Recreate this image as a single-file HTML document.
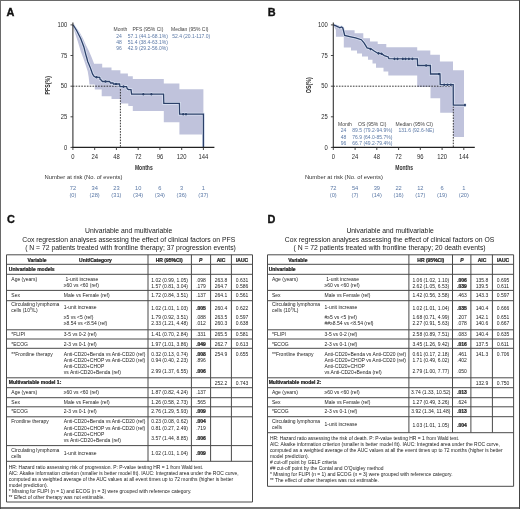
<!DOCTYPE html>
<html><head><meta charset="utf-8"><style>
html,body{margin:0;padding:0;background:#fff;}
#frame{position:absolute;left:0;top:0;width:520px;height:509px;overflow:hidden;}
svg{position:absolute;left:0;top:0;will-change:transform;}
svg text{font-family:"Liberation Sans", sans-serif;}
</style></head><body>
<div id="frame">
<svg width="520" height="509" viewBox="0 0 520 509">
<rect x="0" y="0" width="520" height="509" fill="#fff"/>
<polygon points="73.0,24.6 75.0,26.5 78.9,31.0 82.8,37.9 85.8,44.7 88.7,50.6 91.7,57.5 94.1,63.8 102.2,63.8 102.2,67.6 111.5,67.6 111.5,70.2 120.4,70.2 120.4,73.4 127.9,73.4 127.9,76.2 132.8,76.2 132.8,79.0 163.8,79.0 163.8,83.4 179.4,83.4 179.4,89.2 203.4,89.2 203.4,134.6 179.4,134.6 179.4,122.3 163.8,122.3 163.8,111.1 132.8,111.1 132.8,106.0 128.3,106.0 128.3,103.4 120.4,103.4 120.4,99.0 111.5,99.0 111.5,96.3 101.7,96.3 101.7,89.4 94.8,89.4 94.8,84.5 89.5,84.5 88.7,77.2 87.7,71.3 85.8,65.4 83.8,59.5 80.8,51.6 77.9,41.8 75.0,33.0 73.8,29.0 73.0,25.5" fill="#c0c3dc"/>
<path d="M72.9,86.2 H120.4 V147.4" fill="none" stroke="#222" stroke-width="0.9" stroke-dasharray="1.6,1.2"/>
<polyline points="73.0,24.8 74.5,27.0 76.9,31.0 78.9,35.0 80.8,38.8 82.3,42.7 83.8,46.7 84.8,50.6 85.8,54.6 86.8,58.0 87.7,61.5 89.0,64.5 90.2,67.4 91.4,70.8 92.6,74.2 94.0,76.2 95.6,77.2 99.7,77.4 100.2,79.6 101.2,80.0 102.4,81.5 109.6,81.5 110.5,83.0 113.0,83.0 113.5,84.0 119.6,84.0 119.9,86.6 126.6,86.6 127.2,88.6 128.3,89.6 131.0,89.6 131.6,94.2 163.6,94.2 163.8,103.4 179.4,103.4 179.6,114.2 203.4,114.2 203.4,147.4" fill="none" stroke="#dbe3f3" stroke-width="2.8" stroke-linejoin="miter"/>
<ellipse cx="143.3" cy="94.2" rx="1.5" ry="1.9" fill="#dbe3f3"/>
<ellipse cx="151.4" cy="94.2" rx="1.5" ry="1.9" fill="#dbe3f3"/>
<ellipse cx="183.2" cy="114.2" rx="1.5" ry="1.9" fill="#dbe3f3"/>
<ellipse cx="186.0" cy="114.2" rx="1.5" ry="1.9" fill="#dbe3f3"/>
<ellipse cx="96.5" cy="77.3" rx="1.5" ry="1.9" fill="#dbe3f3"/>
<ellipse cx="105.5" cy="81.5" rx="1.5" ry="1.9" fill="#dbe3f3"/>
<ellipse cx="116.0" cy="84.0" rx="1.5" ry="1.9" fill="#dbe3f3"/>
<ellipse cx="123.5" cy="86.6" rx="1.5" ry="1.9" fill="#dbe3f3"/>
<polyline points="73.0,24.8 74.5,27.0 76.9,31.0 78.9,35.0 80.8,38.8 82.3,42.7 83.8,46.7 84.8,50.6 85.8,54.6 86.8,58.0 87.7,61.5 89.0,64.5 90.2,67.4 91.4,70.8 92.6,74.2 94.0,76.2 95.6,77.2 99.7,77.4 100.2,79.6 101.2,80.0 102.4,81.5 109.6,81.5 110.5,83.0 113.0,83.0 113.5,84.0 119.6,84.0 119.9,86.6 126.6,86.6 127.2,88.6 128.3,89.6 131.0,89.6 131.6,94.2 163.6,94.2 163.8,103.4 179.4,103.4 179.6,114.2 203.4,114.2 203.4,147.4" fill="none" stroke="#2c4069" stroke-width="1.3" stroke-linejoin="miter"/>
<ellipse cx="143.3" cy="94.2" rx="1.0" ry="1.3" fill="#2c4069"/>
<ellipse cx="151.4" cy="94.2" rx="1.0" ry="1.3" fill="#2c4069"/>
<ellipse cx="183.2" cy="114.2" rx="1.0" ry="1.3" fill="#2c4069"/>
<ellipse cx="186.0" cy="114.2" rx="1.0" ry="1.3" fill="#2c4069"/>
<ellipse cx="96.5" cy="77.3" rx="1.0" ry="1.3" fill="#2c4069"/>
<ellipse cx="105.5" cy="81.5" rx="1.0" ry="1.3" fill="#2c4069"/>
<ellipse cx="116.0" cy="84.0" rx="1.0" ry="1.3" fill="#2c4069"/>
<ellipse cx="123.5" cy="86.6" rx="1.0" ry="1.3" fill="#2c4069"/>
<line x1="72.9" y1="22.4" x2="72.9" y2="147.9" stroke="#333" stroke-width="1.1"/>
<line x1="72.4" y1="147.4" x2="214.4" y2="147.4" stroke="#222" stroke-width="1.1"/>
<line x1="70.5" y1="147.4" x2="72.9" y2="147.4" stroke="#333" stroke-width="0.9"/>
<text transform="translate(67.30,149.74) scale(0.9,1)" font-size="6.5" text-anchor="end" fill="#2a2a2a">0</text>
<line x1="70.5" y1="116.8" x2="72.9" y2="116.8" stroke="#333" stroke-width="0.9"/>
<text transform="translate(67.30,119.12) scale(0.9,1)" font-size="6.5" text-anchor="end" fill="#2a2a2a">25</text>
<line x1="70.5" y1="86.2" x2="72.9" y2="86.2" stroke="#333" stroke-width="0.9"/>
<text transform="translate(67.30,88.49) scale(0.9,1)" font-size="6.5" text-anchor="end" fill="#2a2a2a">50</text>
<line x1="70.5" y1="55.5" x2="72.9" y2="55.5" stroke="#333" stroke-width="0.9"/>
<text transform="translate(67.30,57.87) scale(0.9,1)" font-size="6.5" text-anchor="end" fill="#2a2a2a">75</text>
<line x1="70.5" y1="24.9" x2="72.9" y2="24.9" stroke="#333" stroke-width="0.9"/>
<text transform="translate(67.30,27.24) scale(0.9,1)" font-size="6.5" text-anchor="end" fill="#2a2a2a">100</text>
<line x1="72.9" y1="147.4" x2="72.9" y2="150.0" stroke="#333" stroke-width="0.9"/>
<text transform="translate(72.90,158.64) scale(0.9,1)" font-size="6.5" text-anchor="middle" fill="#2a2a2a">0</text>
<line x1="94.7" y1="147.4" x2="94.7" y2="150.0" stroke="#333" stroke-width="0.9"/>
<text transform="translate(94.65,158.64) scale(0.9,1)" font-size="6.5" text-anchor="middle" fill="#2a2a2a">24</text>
<line x1="116.4" y1="147.4" x2="116.4" y2="150.0" stroke="#333" stroke-width="0.9"/>
<text transform="translate(116.40,158.64) scale(0.9,1)" font-size="6.5" text-anchor="middle" fill="#2a2a2a">48</text>
<line x1="138.2" y1="147.4" x2="138.2" y2="150.0" stroke="#333" stroke-width="0.9"/>
<text transform="translate(138.15,158.64) scale(0.9,1)" font-size="6.5" text-anchor="middle" fill="#2a2a2a">72</text>
<line x1="159.9" y1="147.4" x2="159.9" y2="150.0" stroke="#333" stroke-width="0.9"/>
<text transform="translate(159.90,158.64) scale(0.9,1)" font-size="6.5" text-anchor="middle" fill="#2a2a2a">96</text>
<line x1="181.7" y1="147.4" x2="181.7" y2="150.0" stroke="#333" stroke-width="0.9"/>
<text transform="translate(181.65,158.64) scale(0.9,1)" font-size="6.5" text-anchor="middle" fill="#2a2a2a">120</text>
<line x1="203.4" y1="147.4" x2="203.4" y2="150.0" stroke="#333" stroke-width="0.9"/>
<text transform="translate(203.40,158.64) scale(0.9,1)" font-size="6.5" text-anchor="middle" fill="#2a2a2a">144</text>
<text transform="translate(143.8,169.8) scale(0.62,1)" font-size="8.1" font-weight="bold" text-anchor="middle" fill="#333">Months</text>
<text transform="translate(50.3,85.2) rotate(-90) scale(0.72,1)" font-size="7.4" font-weight="bold" text-anchor="middle" fill="#2a2a2a" x="0" y="0">PFS(%)</text>
<text x="113.50" y="31.20" font-size="5.0" text-anchor="start" fill="#444" style="color:#444">Month</text>
<text x="132.50" y="31.20" font-size="5.0" text-anchor="start" fill="#444" style="color:#444">PFS (95% CI)</text>
<text x="171.00" y="31.20" font-size="5.0" text-anchor="start" fill="#444" style="color:#444">Median (95% CI)</text>
<text x="121.90" y="37.50" font-size="5.0" text-anchor="end" fill="#5a78a6" style="color:#5a78a6">24</text>
<text x="127.80" y="37.50" font-size="5.0" text-anchor="start" fill="#5a78a6" style="color:#5a78a6">57.1 (44.1-68.1%)</text>
<text x="121.90" y="43.80" font-size="5.0" text-anchor="end" fill="#5a78a6" style="color:#5a78a6">48</text>
<text x="127.80" y="43.80" font-size="5.0" text-anchor="start" fill="#5a78a6" style="color:#5a78a6">51.4 (38.4-63.1%)</text>
<text x="121.90" y="50.10" font-size="5.0" text-anchor="end" fill="#5a78a6" style="color:#5a78a6">96</text>
<text x="127.80" y="50.10" font-size="5.0" text-anchor="start" fill="#5a78a6" style="color:#5a78a6">42.9 (29.2-56.0%)</text>
<text x="172.20" y="37.50" font-size="5.0" text-anchor="start" fill="#5a78a6" style="color:#5a78a6">52.4 (20.1-117.0)</text>
<text x="44.50" y="179.31" font-size="5.85" text-anchor="start" fill="#333" style="color:#333">Number at risk (No. of events)</text>
<text x="72.90" y="189.65" font-size="5.7" text-anchor="middle" fill="#5a78a6" style="color:#5a78a6">72</text>
<text x="72.90" y="196.65" font-size="5.7" text-anchor="middle" fill="#5a78a6" style="color:#5a78a6">(0)</text>
<text x="94.65" y="189.65" font-size="5.7" text-anchor="middle" fill="#5a78a6" style="color:#5a78a6">34</text>
<text x="94.65" y="196.65" font-size="5.7" text-anchor="middle" fill="#5a78a6" style="color:#5a78a6">(28)</text>
<text x="116.40" y="189.65" font-size="5.7" text-anchor="middle" fill="#5a78a6" style="color:#5a78a6">23</text>
<text x="116.40" y="196.65" font-size="5.7" text-anchor="middle" fill="#5a78a6" style="color:#5a78a6">(31)</text>
<text x="138.15" y="189.65" font-size="5.7" text-anchor="middle" fill="#5a78a6" style="color:#5a78a6">10</text>
<text x="138.15" y="196.65" font-size="5.7" text-anchor="middle" fill="#5a78a6" style="color:#5a78a6">(34)</text>
<text x="159.90" y="189.65" font-size="5.7" text-anchor="middle" fill="#5a78a6" style="color:#5a78a6">6</text>
<text x="159.90" y="196.65" font-size="5.7" text-anchor="middle" fill="#5a78a6" style="color:#5a78a6">(34)</text>
<text x="181.65" y="189.65" font-size="5.7" text-anchor="middle" fill="#5a78a6" style="color:#5a78a6">3</text>
<text x="181.65" y="196.65" font-size="5.7" text-anchor="middle" fill="#5a78a6" style="color:#5a78a6">(36)</text>
<text x="203.40" y="189.65" font-size="5.7" text-anchor="middle" fill="#5a78a6" style="color:#5a78a6">1</text>
<text x="203.40" y="196.65" font-size="5.7" text-anchor="middle" fill="#5a78a6" style="color:#5a78a6">(37)</text>
<polygon points="333.4,24.6 338.0,25.2 341.0,26.5 343.8,28.5 343.8,30.3 354.6,30.3 354.6,33.2 363.3,33.2 363.3,38.3 370.0,38.3 370.0,41.6 377.7,41.6 377.7,44.0 386.3,44.0 386.3,47.2 417.2,47.2 417.2,50.6 430.3,50.6 430.3,54.8 439.9,54.8 439.9,61.4 453.0,61.4 453.0,70.2 464.0,70.2 464.0,137.0 453.3,137.0 453.3,112.7 440.2,112.7 440.2,98.2 430.5,98.2 430.5,87.0 417.2,87.0 417.2,75.4 388.3,75.4 388.3,71.6 383.5,71.6 383.5,67.7 376.0,67.7 376.0,63.6 372.5,63.6 372.5,59.7 368.0,59.7 368.0,56.5 362.0,56.5 362.0,53.5 357.0,53.5 357.0,50.5 351.0,50.5 351.0,47.5 343.8,47.5 343.8,36.7 335.9,36.7 335.9,30.0 333.4,25.5" fill="#c0c3dc"/>
<path d="M333.3,86.2 H453.3 V147.4" fill="none" stroke="#222" stroke-width="0.9" stroke-dasharray="1.6,1.2"/>
<polyline points="333.4,24.8 336.0,25.8 338.0,26.8 339.8,27.8 341.5,27.0 342.8,28.0 343.6,31.0 344.7,35.4 350.8,36.8 355.6,37.8 361.3,39.7 364.2,43.1 367.1,47.9 371.0,48.8 373.8,50.8 377.7,53.2 381.5,53.7 384.4,55.6 388.3,57.0 388.9,58.7 417.4,58.9 417.6,65.5 430.4,65.5 430.5,74.0 440.0,74.0 440.2,84.7 453.2,84.7 453.3,105.1 465.0,105.1" fill="none" stroke="#dbe3f3" stroke-width="2.8" stroke-linejoin="miter"/>
<ellipse cx="402.8" cy="58.9" rx="1.5" ry="1.9" fill="#dbe3f3"/>
<ellipse cx="405.5" cy="58.9" rx="1.5" ry="1.9" fill="#dbe3f3"/>
<ellipse cx="408.9" cy="58.9" rx="1.5" ry="1.9" fill="#dbe3f3"/>
<ellipse cx="412.4" cy="58.9" rx="1.5" ry="1.9" fill="#dbe3f3"/>
<ellipse cx="394.5" cy="58.9" rx="1.5" ry="1.9" fill="#dbe3f3"/>
<ellipse cx="397.5" cy="58.9" rx="1.5" ry="1.9" fill="#dbe3f3"/>
<ellipse cx="426.1" cy="65.5" rx="1.5" ry="1.9" fill="#dbe3f3"/>
<ellipse cx="439.0" cy="74.0" rx="1.5" ry="1.9" fill="#dbe3f3"/>
<ellipse cx="444.2" cy="84.7" rx="1.5" ry="1.9" fill="#dbe3f3"/>
<ellipse cx="447.5" cy="84.7" rx="1.5" ry="1.9" fill="#dbe3f3"/>
<ellipse cx="450.9" cy="84.7" rx="1.5" ry="1.9" fill="#dbe3f3"/>
<ellipse cx="465.0" cy="105.1" rx="1.5" ry="1.9" fill="#dbe3f3"/>
<ellipse cx="370.5" cy="49.1" rx="1.5" ry="1.9" fill="#dbe3f3"/>
<ellipse cx="378.5" cy="53.4" rx="1.5" ry="1.9" fill="#dbe3f3"/>
<ellipse cx="381.5" cy="53.7" rx="1.5" ry="1.9" fill="#dbe3f3"/>
<polyline points="333.4,24.8 336.0,25.8 338.0,26.8 339.8,27.8 341.5,27.0 342.8,28.0 343.6,31.0 344.7,35.4 350.8,36.8 355.6,37.8 361.3,39.7 364.2,43.1 367.1,47.9 371.0,48.8 373.8,50.8 377.7,53.2 381.5,53.7 384.4,55.6 388.3,57.0 388.9,58.7 417.4,58.9 417.6,65.5 430.4,65.5 430.5,74.0 440.0,74.0 440.2,84.7 453.2,84.7 453.3,105.1 465.0,105.1" fill="none" stroke="#2c4069" stroke-width="1.3" stroke-linejoin="miter"/>
<ellipse cx="402.8" cy="58.9" rx="1.0" ry="1.3" fill="#2c4069"/>
<ellipse cx="405.5" cy="58.9" rx="1.0" ry="1.3" fill="#2c4069"/>
<ellipse cx="408.9" cy="58.9" rx="1.0" ry="1.3" fill="#2c4069"/>
<ellipse cx="412.4" cy="58.9" rx="1.0" ry="1.3" fill="#2c4069"/>
<ellipse cx="394.5" cy="58.9" rx="1.0" ry="1.3" fill="#2c4069"/>
<ellipse cx="397.5" cy="58.9" rx="1.0" ry="1.3" fill="#2c4069"/>
<ellipse cx="426.1" cy="65.5" rx="1.0" ry="1.3" fill="#2c4069"/>
<ellipse cx="439.0" cy="74.0" rx="1.0" ry="1.3" fill="#2c4069"/>
<ellipse cx="444.2" cy="84.7" rx="1.0" ry="1.3" fill="#2c4069"/>
<ellipse cx="447.5" cy="84.7" rx="1.0" ry="1.3" fill="#2c4069"/>
<ellipse cx="450.9" cy="84.7" rx="1.0" ry="1.3" fill="#2c4069"/>
<ellipse cx="465.0" cy="105.1" rx="1.0" ry="1.3" fill="#2c4069"/>
<ellipse cx="370.5" cy="49.1" rx="1.0" ry="1.3" fill="#2c4069"/>
<ellipse cx="378.5" cy="53.4" rx="1.0" ry="1.3" fill="#2c4069"/>
<ellipse cx="381.5" cy="53.7" rx="1.0" ry="1.3" fill="#2c4069"/>
<line x1="333.3" y1="22.4" x2="333.3" y2="147.9" stroke="#333" stroke-width="1.1"/>
<line x1="332.8" y1="147.4" x2="474.8" y2="147.4" stroke="#222" stroke-width="1.1"/>
<line x1="330.9" y1="147.4" x2="333.3" y2="147.4" stroke="#333" stroke-width="0.9"/>
<text transform="translate(327.70,149.74) scale(0.9,1)" font-size="6.5" text-anchor="end" fill="#2a2a2a">0</text>
<line x1="330.9" y1="116.8" x2="333.3" y2="116.8" stroke="#333" stroke-width="0.9"/>
<text transform="translate(327.70,119.12) scale(0.9,1)" font-size="6.5" text-anchor="end" fill="#2a2a2a">25</text>
<line x1="330.9" y1="86.2" x2="333.3" y2="86.2" stroke="#333" stroke-width="0.9"/>
<text transform="translate(327.70,88.49) scale(0.9,1)" font-size="6.5" text-anchor="end" fill="#2a2a2a">50</text>
<line x1="330.9" y1="55.5" x2="333.3" y2="55.5" stroke="#333" stroke-width="0.9"/>
<text transform="translate(327.70,57.87) scale(0.9,1)" font-size="6.5" text-anchor="end" fill="#2a2a2a">75</text>
<line x1="330.9" y1="24.9" x2="333.3" y2="24.9" stroke="#333" stroke-width="0.9"/>
<text transform="translate(327.70,27.24) scale(0.9,1)" font-size="6.5" text-anchor="end" fill="#2a2a2a">100</text>
<line x1="333.3" y1="147.4" x2="333.3" y2="150.0" stroke="#333" stroke-width="0.9"/>
<text transform="translate(333.30,158.64) scale(0.9,1)" font-size="6.5" text-anchor="middle" fill="#2a2a2a">0</text>
<line x1="355.1" y1="147.4" x2="355.1" y2="150.0" stroke="#333" stroke-width="0.9"/>
<text transform="translate(355.05,158.64) scale(0.9,1)" font-size="6.5" text-anchor="middle" fill="#2a2a2a">24</text>
<line x1="376.8" y1="147.4" x2="376.8" y2="150.0" stroke="#333" stroke-width="0.9"/>
<text transform="translate(376.80,158.64) scale(0.9,1)" font-size="6.5" text-anchor="middle" fill="#2a2a2a">48</text>
<line x1="398.6" y1="147.4" x2="398.6" y2="150.0" stroke="#333" stroke-width="0.9"/>
<text transform="translate(398.55,158.64) scale(0.9,1)" font-size="6.5" text-anchor="middle" fill="#2a2a2a">72</text>
<line x1="420.3" y1="147.4" x2="420.3" y2="150.0" stroke="#333" stroke-width="0.9"/>
<text transform="translate(420.30,158.64) scale(0.9,1)" font-size="6.5" text-anchor="middle" fill="#2a2a2a">96</text>
<line x1="442.1" y1="147.4" x2="442.1" y2="150.0" stroke="#333" stroke-width="0.9"/>
<text transform="translate(442.05,158.64) scale(0.9,1)" font-size="6.5" text-anchor="middle" fill="#2a2a2a">120</text>
<line x1="463.8" y1="147.4" x2="463.8" y2="150.0" stroke="#333" stroke-width="0.9"/>
<text transform="translate(463.80,158.64) scale(0.9,1)" font-size="6.5" text-anchor="middle" fill="#2a2a2a">144</text>
<text transform="translate(404.2,169.8) scale(0.62,1)" font-size="8.1" font-weight="bold" text-anchor="middle" fill="#333">Months</text>
<text transform="translate(310.7,85.2) rotate(-90) scale(0.72,1)" font-size="7.4" font-weight="bold" text-anchor="middle" fill="#2a2a2a" x="0" y="0">OS(%)</text>
<text x="338.00" y="126.00" font-size="5.0" text-anchor="start" fill="#444" style="color:#444">Month</text>
<text x="358.00" y="126.00" font-size="5.0" text-anchor="start" fill="#444" style="color:#444">OS (95% CI)</text>
<text x="395.50" y="126.00" font-size="5.0" text-anchor="start" fill="#444" style="color:#444">Median (95% CI)</text>
<text x="346.40" y="132.30" font-size="5.0" text-anchor="end" fill="#5a78a6" style="color:#5a78a6">24</text>
<text x="352.30" y="132.30" font-size="5.0" text-anchor="start" fill="#5a78a6" style="color:#5a78a6">89.5 (79.2-94.9%)</text>
<text x="346.40" y="138.60" font-size="5.0" text-anchor="end" fill="#5a78a6" style="color:#5a78a6">48</text>
<text x="352.30" y="138.60" font-size="5.0" text-anchor="start" fill="#5a78a6" style="color:#5a78a6">76.9 (64.0-85.7%)</text>
<text x="346.40" y="144.90" font-size="5.0" text-anchor="end" fill="#5a78a6" style="color:#5a78a6">96</text>
<text x="352.30" y="144.90" font-size="5.0" text-anchor="start" fill="#5a78a6" style="color:#5a78a6">66.7 (49.2-79.4%)</text>
<text x="398.50" y="132.30" font-size="5.0" text-anchor="start" fill="#5a78a6" style="color:#5a78a6">131.6 (92.6-NE)</text>
<text x="304.90" y="179.31" font-size="5.85" text-anchor="start" fill="#333" style="color:#333">Number at risk (No. of events)</text>
<text x="333.30" y="189.65" font-size="5.7" text-anchor="middle" fill="#5a78a6" style="color:#5a78a6">72</text>
<text x="333.30" y="196.65" font-size="5.7" text-anchor="middle" fill="#5a78a6" style="color:#5a78a6">(0)</text>
<text x="355.05" y="189.65" font-size="5.7" text-anchor="middle" fill="#5a78a6" style="color:#5a78a6">54</text>
<text x="355.05" y="196.65" font-size="5.7" text-anchor="middle" fill="#5a78a6" style="color:#5a78a6">(7)</text>
<text x="376.80" y="189.65" font-size="5.7" text-anchor="middle" fill="#5a78a6" style="color:#5a78a6">39</text>
<text x="376.80" y="196.65" font-size="5.7" text-anchor="middle" fill="#5a78a6" style="color:#5a78a6">(14)</text>
<text x="398.55" y="189.65" font-size="5.7" text-anchor="middle" fill="#5a78a6" style="color:#5a78a6">22</text>
<text x="398.55" y="196.65" font-size="5.7" text-anchor="middle" fill="#5a78a6" style="color:#5a78a6">(16)</text>
<text x="420.30" y="189.65" font-size="5.7" text-anchor="middle" fill="#5a78a6" style="color:#5a78a6">12</text>
<text x="420.30" y="196.65" font-size="5.7" text-anchor="middle" fill="#5a78a6" style="color:#5a78a6">(17)</text>
<text x="442.05" y="189.65" font-size="5.7" text-anchor="middle" fill="#5a78a6" style="color:#5a78a6">6</text>
<text x="442.05" y="196.65" font-size="5.7" text-anchor="middle" fill="#5a78a6" style="color:#5a78a6">(19)</text>
<text x="463.80" y="189.65" font-size="5.7" text-anchor="middle" fill="#5a78a6" style="color:#5a78a6">1</text>
<text x="463.80" y="196.65" font-size="5.7" text-anchor="middle" fill="#5a78a6" style="color:#5a78a6">(20)</text>
<text x="6.60" y="15.80" font-size="10.9" text-anchor="start" fill="#111" style="color:#111" font-weight="bold" stroke="#111" stroke-width="0.35">A</text>
<text x="267.80" y="15.80" font-size="10.9" text-anchor="start" fill="#111" style="color:#111" font-weight="bold" stroke="#111" stroke-width="0.35">B</text>
<text x="7.00" y="223.00" font-size="10.9" text-anchor="start" fill="#111" style="color:#111" font-weight="bold" stroke="#111" stroke-width="0.35">C</text>
<text x="267.60" y="222.70" font-size="10.9" text-anchor="start" fill="#111" style="color:#111" font-weight="bold" stroke="#111" stroke-width="0.35">D</text>
<text x="128.70" y="232.85" font-size="6.8" text-anchor="middle" fill="#1a1a1a" style="color:#1a1a1a">Univariable and multivariable</text>
<text x="128.70" y="241.75" font-size="6.8" text-anchor="middle" fill="#1a1a1a" style="color:#1a1a1a">Cox regression analyses assessing the effect of clinical factors on PFS</text>
<text x="130.50" y="250.05" font-size="6.8" text-anchor="middle" fill="#1a1a1a" style="color:#1a1a1a">( N = 72 patients treated with frontline therapy; 37 progression events)</text>
<line x1="6.5" y1="254.8" x2="252.5" y2="254.8" stroke="#4a4a4a" stroke-width="1"/>
<line x1="6.5" y1="264.3" x2="252.5" y2="264.3" stroke="#4a4a4a" stroke-width="1"/>
<line x1="6.5" y1="274.3" x2="252.5" y2="274.3" stroke="#4a4a4a" stroke-width="1"/>
<line x1="6.5" y1="290.4" x2="252.5" y2="290.4" stroke="#4a4a4a" stroke-width="1"/>
<line x1="6.5" y1="300.7" x2="252.5" y2="300.7" stroke="#4a4a4a" stroke-width="1"/>
<line x1="6.5" y1="329.8" x2="252.5" y2="329.8" stroke="#4a4a4a" stroke-width="1"/>
<line x1="6.5" y1="339.0" x2="252.5" y2="339.0" stroke="#4a4a4a" stroke-width="1"/>
<line x1="6.5" y1="348.3" x2="252.5" y2="348.3" stroke="#4a4a4a" stroke-width="1"/>
<line x1="6.5" y1="377.8" x2="252.5" y2="377.8" stroke="#4a4a4a" stroke-width="1"/>
<line x1="6.5" y1="387.7" x2="252.5" y2="387.7" stroke="#4a4a4a" stroke-width="1"/>
<line x1="6.5" y1="397.7" x2="252.5" y2="397.7" stroke="#4a4a4a" stroke-width="1"/>
<line x1="6.5" y1="406.8" x2="252.5" y2="406.8" stroke="#4a4a4a" stroke-width="1"/>
<line x1="6.5" y1="416.8" x2="252.5" y2="416.8" stroke="#4a4a4a" stroke-width="1"/>
<line x1="6.5" y1="445.6" x2="252.5" y2="445.6" stroke="#4a4a4a" stroke-width="1"/>
<line x1="6.5" y1="461.3" x2="252.5" y2="461.3" stroke="#4a4a4a" stroke-width="1"/>
<line x1="6.5" y1="502.0" x2="252.5" y2="502.0" stroke="#4a4a4a" stroke-width="1"/>
<line x1="6.5" y1="254.8" x2="6.5" y2="502.0" stroke="#4a4a4a" stroke-width="1"/>
<line x1="252.5" y1="254.8" x2="252.5" y2="502.0" stroke="#4a4a4a" stroke-width="1"/>
<line x1="148.0" y1="254.8" x2="148.0" y2="461.3" stroke="#4a4a4a" stroke-width="1"/>
<line x1="191.4" y1="254.8" x2="191.4" y2="461.3" stroke="#4a4a4a" stroke-width="1"/>
<line x1="210.6" y1="254.8" x2="210.6" y2="461.3" stroke="#4a4a4a" stroke-width="1"/>
<line x1="231.4" y1="254.8" x2="231.4" y2="461.3" stroke="#4a4a4a" stroke-width="1"/>
<text x="37.00" y="261.90" font-size="5.0" text-anchor="middle" fill="#222" style="color:#222" font-weight="bold" stroke="#222" stroke-width="0.22">Variable</text>
<text x="95.50" y="261.90" font-size="5.0" text-anchor="middle" fill="#222" style="color:#222" font-weight="bold" stroke="#222" stroke-width="0.22">Unit/Category</text>
<text x="169.20" y="261.90" font-size="5.0" text-anchor="middle" fill="#222" style="color:#222" font-weight="bold" stroke="#222" stroke-width="0.22">HR (95%CI)</text>
<text x="200.60" y="261.90" font-size="5.0" text-anchor="middle" fill="#222" style="color:#222" font-weight="bold" stroke="#222" stroke-width="0.22" font-style="italic">P</text>
<text x="221.00" y="261.90" font-size="5.0" text-anchor="middle" fill="#222" style="color:#222" font-weight="bold" stroke="#222" stroke-width="0.22">AIC</text>
<text x="242.00" y="261.90" font-size="5.0" text-anchor="middle" fill="#222" style="color:#222" font-weight="bold" stroke="#222" stroke-width="0.22">IAUC</text>
<text x="8.80" y="271.20" font-size="5.0" text-anchor="start" fill="#222" style="color:#222" font-weight="bold" stroke="#222" stroke-width="0.22">Univariable models</text>
<text x="11.30" y="281.30" font-size="5.0" text-anchor="start" fill="#222" style="color:#222">Age (years)</text>
<text x="169.60" y="281.50" font-size="5.0" text-anchor="middle" fill="#222" style="color:#222">1.02 (0.99, 1.05)</text>
<text x="201.00" y="281.50" font-size="5.0" text-anchor="middle" fill="#222" style="color:#222">.098</text>
<text x="221.00" y="281.50" font-size="5.0" text-anchor="middle" fill="#222" style="color:#222">263.8</text>
<text x="242.00" y="281.50" font-size="5.0" text-anchor="middle" fill="#222" style="color:#222">0.631</text>
<text x="65.50" y="281.30" font-size="5.0" text-anchor="start" fill="#222" style="color:#222">1-unit increase</text>
<text x="63.80" y="287.30" font-size="5.0" text-anchor="start" fill="#222" style="color:#222">≥60 vs &lt;60 (ref)</text>
<text x="169.60" y="287.50" font-size="5.0" text-anchor="middle" fill="#222" style="color:#222">1.57 (0.81, 3.04)</text>
<text x="201.00" y="287.50" font-size="5.0" text-anchor="middle" fill="#222" style="color:#222">.179</text>
<text x="221.00" y="287.50" font-size="5.0" text-anchor="middle" fill="#222" style="color:#222">264.7</text>
<text x="242.00" y="287.50" font-size="5.0" text-anchor="middle" fill="#222" style="color:#222">0.586</text>
<text x="11.30" y="297.20" font-size="5.0" text-anchor="start" fill="#222" style="color:#222">Sex</text>
<text x="63.80" y="297.20" font-size="5.0" text-anchor="start" fill="#222" style="color:#222">Male vs Female (ref)</text>
<text x="169.60" y="297.40" font-size="5.0" text-anchor="middle" fill="#222" style="color:#222">1.72 (0.84, 3.51)</text>
<text x="201.00" y="297.40" font-size="5.0" text-anchor="middle" fill="#222" style="color:#222">.137</text>
<text x="221.00" y="297.40" font-size="5.0" text-anchor="middle" fill="#222" style="color:#222">264.1</text>
<text x="242.00" y="297.40" font-size="5.0" text-anchor="middle" fill="#222" style="color:#222">0.561</text>
<text x="11.30" y="305.60" font-size="5.0" text-anchor="start" fill="#222" style="color:#222">Circulating lymphoma</text>
<text x="11.30" y="311.80" font-size="5.0" text-anchor="start" fill="#222" style="color:#222">cells (10<tspan dy="-1.6" font-size="3.4">9</tspan><tspan dy="1.6">/L)</tspan></text>
<text x="63.80" y="309.30" font-size="5.0" text-anchor="start" fill="#222" style="color:#222">1-unit increase</text>
<text x="169.60" y="309.50" font-size="5.0" text-anchor="middle" fill="#222" style="color:#222">1.02 (1.01, 1.03)</text>
<text x="201.00" y="309.50" font-size="5.0" text-anchor="middle" fill="#222" style="color:#222" font-weight="bold" stroke="#222" stroke-width="0.22">.005</text>
<text x="221.00" y="309.50" font-size="5.0" text-anchor="middle" fill="#222" style="color:#222">260.4</text>
<text x="242.00" y="309.50" font-size="5.0" text-anchor="middle" fill="#222" style="color:#222">0.622</text>
<text x="63.80" y="319.20" font-size="5.0" text-anchor="start" fill="#222" style="color:#222">≥5 vs &lt;5 (ref)</text>
<text x="169.60" y="319.40" font-size="5.0" text-anchor="middle" fill="#222" style="color:#222">1.79 (0.92, 3.51)</text>
<text x="201.00" y="319.40" font-size="5.0" text-anchor="middle" fill="#222" style="color:#222">.088</text>
<text x="221.00" y="319.40" font-size="5.0" text-anchor="middle" fill="#222" style="color:#222">263.5</text>
<text x="242.00" y="319.40" font-size="5.0" text-anchor="middle" fill="#222" style="color:#222">0.597</text>
<text x="63.80" y="325.20" font-size="5.0" text-anchor="start" fill="#222" style="color:#222">≥8.54 vs &lt;8.54 (ref)</text>
<text x="169.60" y="325.40" font-size="5.0" text-anchor="middle" fill="#222" style="color:#222">2.33 (1.21, 4.48)</text>
<text x="201.00" y="325.40" font-size="5.0" text-anchor="middle" fill="#222" style="color:#222">.012</text>
<text x="221.00" y="325.40" font-size="5.0" text-anchor="middle" fill="#222" style="color:#222">260.3</text>
<text x="242.00" y="325.40" font-size="5.0" text-anchor="middle" fill="#222" style="color:#222">0.638</text>
<text x="11.30" y="336.10" font-size="5.0" text-anchor="start" fill="#222" style="color:#222">*FLIPI</text>
<text x="63.80" y="336.10" font-size="5.0" text-anchor="start" fill="#222" style="color:#222">3-5 vs 0-2 (ref)</text>
<text x="169.60" y="336.30" font-size="5.0" text-anchor="middle" fill="#222" style="color:#222">1.41 (0.70, 2.84)</text>
<text x="201.00" y="336.30" font-size="5.0" text-anchor="middle" fill="#222" style="color:#222">.331</text>
<text x="221.00" y="336.30" font-size="5.0" text-anchor="middle" fill="#222" style="color:#222">265.5</text>
<text x="242.00" y="336.30" font-size="5.0" text-anchor="middle" fill="#222" style="color:#222">0.581</text>
<text x="11.30" y="345.60" font-size="5.0" text-anchor="start" fill="#222" style="color:#222">*ECOG</text>
<text x="63.80" y="345.60" font-size="5.0" text-anchor="start" fill="#222" style="color:#222">2-3 vs 0-1 (ref)</text>
<text x="169.60" y="345.80" font-size="5.0" text-anchor="middle" fill="#222" style="color:#222">1.97 (1.01, 3.86)</text>
<text x="201.00" y="345.80" font-size="5.0" text-anchor="middle" fill="#222" style="color:#222" font-weight="bold" stroke="#222" stroke-width="0.22">.049</text>
<text x="221.00" y="345.80" font-size="5.0" text-anchor="middle" fill="#222" style="color:#222">262.7</text>
<text x="242.00" y="345.80" font-size="5.0" text-anchor="middle" fill="#222" style="color:#222">0.613</text>
<text x="11.30" y="355.60" font-size="5.0" text-anchor="start" fill="#222" style="color:#222">**Frontline therapy</text>
<text x="63.80" y="355.60" font-size="5.0" text-anchor="start" fill="#222" style="color:#222">Anti-CD20+Benda vs Anti-CD20 (ref)</text>
<text x="169.60" y="355.80" font-size="5.0" text-anchor="middle" fill="#222" style="color:#222">0.32 (0.13, 0.74)</text>
<text x="201.00" y="355.80" font-size="5.0" text-anchor="middle" fill="#222" style="color:#222" font-weight="bold" stroke="#222" stroke-width="0.22">.008</text>
<text x="221.00" y="355.80" font-size="5.0" text-anchor="middle" fill="#222" style="color:#222">254.9</text>
<text x="242.00" y="355.80" font-size="5.0" text-anchor="middle" fill="#222" style="color:#222">0.655</text>
<text x="63.80" y="361.50" font-size="5.0" text-anchor="start" fill="#222" style="color:#222">Anti-CD20+CHOP vs Anti-CD20 (ref)</text>
<text x="169.60" y="361.70" font-size="5.0" text-anchor="middle" fill="#222" style="color:#222">0.94 (0.40, 2.23)</text>
<text x="201.00" y="361.70" font-size="5.0" text-anchor="middle" fill="#222" style="color:#222">.896</text>
<text x="63.80" y="367.70" font-size="5.0" text-anchor="start" fill="#222" style="color:#222">Anti-CD20+CHOP</text>
<text x="169.60" y="372.80" font-size="5.0" text-anchor="middle" fill="#222" style="color:#222">2.99 (1.37, 6.55)</text>
<text x="201.00" y="372.80" font-size="5.0" text-anchor="middle" fill="#222" style="color:#222" font-weight="bold" stroke="#222" stroke-width="0.22">.006</text>
<text x="63.80" y="373.90" font-size="5.0" text-anchor="start" fill="#222" style="color:#222">vs Anti-CD20+Benda (ref)</text>
<text x="8.80" y="384.40" font-size="5.0" text-anchor="start" fill="#222" style="color:#222" font-weight="bold" stroke="#222" stroke-width="0.22">Multivariable model 1:</text>
<text x="221.00" y="384.60" font-size="5.0" text-anchor="middle" fill="#222" style="color:#222">252.2</text>
<text x="242.00" y="384.60" font-size="5.0" text-anchor="middle" fill="#222" style="color:#222">0.743</text>
<text x="11.30" y="394.20" font-size="5.0" text-anchor="start" fill="#222" style="color:#222">Age (years)</text>
<text x="63.80" y="394.20" font-size="5.0" text-anchor="start" fill="#222" style="color:#222">≥60 vs &lt;60 (ref)</text>
<text x="169.60" y="394.40" font-size="5.0" text-anchor="middle" fill="#222" style="color:#222">1.87 (0.82, 4.24)</text>
<text x="201.00" y="394.40" font-size="5.0" text-anchor="middle" fill="#222" style="color:#222">.137</text>
<text x="11.30" y="403.70" font-size="5.0" text-anchor="start" fill="#222" style="color:#222">Sex</text>
<text x="63.80" y="403.70" font-size="5.0" text-anchor="start" fill="#222" style="color:#222">Male vs Female (ref)</text>
<text x="169.60" y="403.90" font-size="5.0" text-anchor="middle" fill="#222" style="color:#222">1.26 (0.58, 2.73)</text>
<text x="201.00" y="403.90" font-size="5.0" text-anchor="middle" fill="#222" style="color:#222">.565</text>
<text x="11.30" y="413.20" font-size="5.0" text-anchor="start" fill="#222" style="color:#222">*ECOG</text>
<text x="63.80" y="413.20" font-size="5.0" text-anchor="start" fill="#222" style="color:#222">2-3 vs 0-1 (ref)</text>
<text x="169.60" y="413.40" font-size="5.0" text-anchor="middle" fill="#222" style="color:#222">2.76 (1.29, 5.93)</text>
<text x="201.00" y="413.40" font-size="5.0" text-anchor="middle" fill="#222" style="color:#222" font-weight="bold" stroke="#222" stroke-width="0.22">.009</text>
<text x="11.30" y="423.20" font-size="5.0" text-anchor="start" fill="#222" style="color:#222">Frontline therapy</text>
<text x="63.80" y="423.20" font-size="5.0" text-anchor="start" fill="#222" style="color:#222">Anti-CD20+Benda vs Anti-CD20 (ref)</text>
<text x="169.60" y="423.40" font-size="5.0" text-anchor="middle" fill="#222" style="color:#222">0.23 (0.08, 0.62)</text>
<text x="201.00" y="423.40" font-size="5.0" text-anchor="middle" fill="#222" style="color:#222" font-weight="bold" stroke="#222" stroke-width="0.22">.004</text>
<text x="63.80" y="429.50" font-size="5.0" text-anchor="start" fill="#222" style="color:#222">Anti-CD20+CHOP vs Anti-CD20 (ref)</text>
<text x="169.60" y="429.70" font-size="5.0" text-anchor="middle" fill="#222" style="color:#222">0.81 (0.27, 2.49)</text>
<text x="201.00" y="429.70" font-size="5.0" text-anchor="middle" fill="#222" style="color:#222">.719</text>
<text x="63.80" y="436.00" font-size="5.0" text-anchor="start" fill="#222" style="color:#222">Anti-CD20+CHOP</text>
<text x="169.60" y="439.80" font-size="5.0" text-anchor="middle" fill="#222" style="color:#222">3.57 (1.44, 8.85)</text>
<text x="201.00" y="439.80" font-size="5.0" text-anchor="middle" fill="#222" style="color:#222" font-weight="bold" stroke="#222" stroke-width="0.22">.006</text>
<text x="63.80" y="442.20" font-size="5.0" text-anchor="start" fill="#222" style="color:#222">vs Anti-CD20+Benda (ref)</text>
<text x="11.30" y="452.10" font-size="5.0" text-anchor="start" fill="#222" style="color:#222">Circulating lymphoma</text>
<text x="63.80" y="455.20" font-size="5.0" text-anchor="start" fill="#222" style="color:#222">1-unit increase</text>
<text x="169.60" y="455.40" font-size="5.0" text-anchor="middle" fill="#222" style="color:#222">1.02 (1.01, 1.04)</text>
<text x="201.00" y="455.40" font-size="5.0" text-anchor="middle" fill="#222" style="color:#222" font-weight="bold" stroke="#222" stroke-width="0.22">.009</text>
<text x="11.30" y="458.30" font-size="5.0" text-anchor="start" fill="#222" style="color:#222">cells</text>
<text x="8.70" y="468.58" font-size="4.95" text-anchor="start" fill="#222" style="color:#222">HR: Hazard ratio assessing risk of progression. P: P-value testing HR = 1 from Wald test.</text>
<text x="8.70" y="474.62" font-size="4.95" text-anchor="start" fill="#222" style="color:#222">AIC: Akaike information criterion (smaller is better model fit). IAUC: Integrated area under the ROC curve,</text>
<text x="8.70" y="480.66" font-size="4.95" text-anchor="start" fill="#222" style="color:#222">computed as a weighted average of the AUC values at all event times up to 72 months (higher is better</text>
<text x="8.70" y="486.70" font-size="4.95" text-anchor="start" fill="#222" style="color:#222">model prediction).</text>
<text x="8.70" y="492.74" font-size="4.95" text-anchor="start" fill="#222" style="color:#222">* Missing for FLIPI (n = 1) and ECOG (n = 3) were grouped with reference category.</text>
<text x="8.70" y="498.78" font-size="4.95" text-anchor="start" fill="#222" style="color:#222">** Effect of other therapy was not estimable.</text>
<text x="390.05" y="232.85" font-size="6.8" text-anchor="middle" fill="#1a1a1a" style="color:#1a1a1a">Univariable and multivariable</text>
<text x="389.55" y="241.75" font-size="6.8" text-anchor="middle" fill="#1a1a1a" style="color:#1a1a1a">Cox regression analyses assessing the effect of clinical factors on OS</text>
<text x="389.55" y="250.05" font-size="6.8" text-anchor="middle" fill="#1a1a1a" style="color:#1a1a1a">( N = 72 patients treated with frontline therapy; 20 death events)</text>
<line x1="267.5" y1="254.8" x2="513.6" y2="254.8" stroke="#4a4a4a" stroke-width="1"/>
<line x1="267.5" y1="264.3" x2="513.6" y2="264.3" stroke="#4a4a4a" stroke-width="1"/>
<line x1="267.5" y1="274.3" x2="513.6" y2="274.3" stroke="#4a4a4a" stroke-width="1"/>
<line x1="267.5" y1="290.4" x2="513.6" y2="290.4" stroke="#4a4a4a" stroke-width="1"/>
<line x1="267.5" y1="300.7" x2="513.6" y2="300.7" stroke="#4a4a4a" stroke-width="1"/>
<line x1="267.5" y1="329.8" x2="513.6" y2="329.8" stroke="#4a4a4a" stroke-width="1"/>
<line x1="267.5" y1="339.0" x2="513.6" y2="339.0" stroke="#4a4a4a" stroke-width="1"/>
<line x1="267.5" y1="348.3" x2="513.6" y2="348.3" stroke="#4a4a4a" stroke-width="1"/>
<line x1="267.5" y1="377.8" x2="513.6" y2="377.8" stroke="#4a4a4a" stroke-width="1"/>
<line x1="267.5" y1="387.7" x2="513.6" y2="387.7" stroke="#4a4a4a" stroke-width="1"/>
<line x1="267.5" y1="397.7" x2="513.6" y2="397.7" stroke="#4a4a4a" stroke-width="1"/>
<line x1="267.5" y1="406.8" x2="513.6" y2="406.8" stroke="#4a4a4a" stroke-width="1"/>
<line x1="267.5" y1="416.7" x2="513.6" y2="416.7" stroke="#4a4a4a" stroke-width="1"/>
<line x1="267.5" y1="432.7" x2="513.6" y2="432.7" stroke="#4a4a4a" stroke-width="1"/>
<line x1="267.5" y1="486.3" x2="513.6" y2="486.3" stroke="#4a4a4a" stroke-width="1"/>
<line x1="267.5" y1="254.8" x2="267.5" y2="486.3" stroke="#4a4a4a" stroke-width="1"/>
<line x1="513.6" y1="254.8" x2="513.6" y2="486.3" stroke="#4a4a4a" stroke-width="1"/>
<line x1="408.9" y1="254.8" x2="408.9" y2="432.7" stroke="#4a4a4a" stroke-width="1"/>
<line x1="452.5" y1="254.8" x2="452.5" y2="432.7" stroke="#4a4a4a" stroke-width="1"/>
<line x1="470.9" y1="254.8" x2="470.9" y2="432.7" stroke="#4a4a4a" stroke-width="1"/>
<line x1="492.4" y1="254.8" x2="492.4" y2="432.7" stroke="#4a4a4a" stroke-width="1"/>
<text x="297.90" y="261.90" font-size="5.0" text-anchor="middle" fill="#222" style="color:#222" font-weight="bold" stroke="#222" stroke-width="0.22">Variable</text>
<text x="430.80" y="261.90" font-size="5.0" text-anchor="middle" fill="#222" style="color:#222" font-weight="bold" stroke="#222" stroke-width="0.22">HR (95%CI)</text>
<text x="462.00" y="261.90" font-size="5.0" text-anchor="middle" fill="#222" style="color:#222" font-weight="bold" stroke="#222" stroke-width="0.22" font-style="italic">P</text>
<text x="482.00" y="261.90" font-size="5.0" text-anchor="middle" fill="#222" style="color:#222" font-weight="bold" stroke="#222" stroke-width="0.22">AIC</text>
<text x="503.00" y="261.90" font-size="5.0" text-anchor="middle" fill="#222" style="color:#222" font-weight="bold" stroke="#222" stroke-width="0.22">IAUC</text>
<text x="268.70" y="271.20" font-size="5.0" text-anchor="start" fill="#222" style="color:#222" font-weight="bold" stroke="#222" stroke-width="0.22">Univariable</text>
<text x="272.00" y="281.30" font-size="5.0" text-anchor="start" fill="#222" style="color:#222">Age (years)</text>
<text x="430.80" y="281.50" font-size="5.0" text-anchor="middle" fill="#222" style="color:#222">1.06 (1.02, 1.10)</text>
<text x="462.00" y="281.50" font-size="5.0" text-anchor="middle" fill="#222" style="color:#222" font-weight="bold" stroke="#222" stroke-width="0.22">.006</text>
<text x="482.00" y="281.50" font-size="5.0" text-anchor="middle" fill="#222" style="color:#222">135.8</text>
<text x="503.00" y="281.50" font-size="5.0" text-anchor="middle" fill="#222" style="color:#222">0.695</text>
<text x="326.20" y="281.30" font-size="5.0" text-anchor="start" fill="#222" style="color:#222">1-unit increase</text>
<text x="324.50" y="287.30" font-size="5.0" text-anchor="start" fill="#222" style="color:#222">≥60 vs &lt;60 (ref)</text>
<text x="430.80" y="287.50" font-size="5.0" text-anchor="middle" fill="#222" style="color:#222">2.62 (1.05, 6.53)</text>
<text x="462.00" y="287.50" font-size="5.0" text-anchor="middle" fill="#222" style="color:#222" font-weight="bold" stroke="#222" stroke-width="0.22">.039</text>
<text x="482.00" y="287.50" font-size="5.0" text-anchor="middle" fill="#222" style="color:#222">139.5</text>
<text x="503.00" y="287.50" font-size="5.0" text-anchor="middle" fill="#222" style="color:#222">0.611</text>
<text x="272.00" y="297.20" font-size="5.0" text-anchor="start" fill="#222" style="color:#222">Sex</text>
<text x="324.50" y="297.20" font-size="5.0" text-anchor="start" fill="#222" style="color:#222">Male vs Female (ref)</text>
<text x="430.80" y="297.40" font-size="5.0" text-anchor="middle" fill="#222" style="color:#222">1.42 (0.56, 3.58)</text>
<text x="462.00" y="297.40" font-size="5.0" text-anchor="middle" fill="#222" style="color:#222">.463</text>
<text x="482.00" y="297.40" font-size="5.0" text-anchor="middle" fill="#222" style="color:#222">143.3</text>
<text x="503.00" y="297.40" font-size="5.0" text-anchor="middle" fill="#222" style="color:#222">0.597</text>
<text x="272.00" y="305.60" font-size="5.0" text-anchor="start" fill="#222" style="color:#222">Circulating lymphoma</text>
<text x="272.00" y="311.80" font-size="5.0" text-anchor="start" fill="#222" style="color:#222">cells (10<tspan dy="-1.6" font-size="3.4">9</tspan><tspan dy="1.6">/L)</tspan></text>
<text x="324.50" y="309.30" font-size="5.0" text-anchor="start" fill="#222" style="color:#222">1-unit increase</text>
<text x="430.80" y="309.50" font-size="5.0" text-anchor="middle" fill="#222" style="color:#222">1.02 (1.01, 1.04)</text>
<text x="462.00" y="309.50" font-size="5.0" text-anchor="middle" fill="#222" style="color:#222" font-weight="bold" stroke="#222" stroke-width="0.22">.035</text>
<text x="482.00" y="309.50" font-size="5.0" text-anchor="middle" fill="#222" style="color:#222">140.4</text>
<text x="503.00" y="309.50" font-size="5.0" text-anchor="middle" fill="#222" style="color:#222">0.666</text>
<text x="324.50" y="319.20" font-size="5.0" text-anchor="start" fill="#222" style="color:#222">#≥5 vs &lt;5 (ref)</text>
<text x="430.80" y="319.40" font-size="5.0" text-anchor="middle" fill="#222" style="color:#222">1.68 (0.71, 4.99)</text>
<text x="462.00" y="319.40" font-size="5.0" text-anchor="middle" fill="#222" style="color:#222">.207</text>
<text x="482.00" y="319.40" font-size="5.0" text-anchor="middle" fill="#222" style="color:#222">142.1</text>
<text x="503.00" y="319.40" font-size="5.0" text-anchor="middle" fill="#222" style="color:#222">0.651</text>
<text x="324.50" y="325.20" font-size="5.0" text-anchor="start" fill="#222" style="color:#222">##≥8.54 vs &lt;8.54 (ref)</text>
<text x="430.80" y="325.40" font-size="5.0" text-anchor="middle" fill="#222" style="color:#222">2.27 (0.91, 5.63)</text>
<text x="462.00" y="325.40" font-size="5.0" text-anchor="middle" fill="#222" style="color:#222">.078</text>
<text x="482.00" y="325.40" font-size="5.0" text-anchor="middle" fill="#222" style="color:#222">140.6</text>
<text x="503.00" y="325.40" font-size="5.0" text-anchor="middle" fill="#222" style="color:#222">0.667</text>
<text x="272.00" y="336.10" font-size="5.0" text-anchor="start" fill="#222" style="color:#222">*FLIPI</text>
<text x="324.50" y="336.10" font-size="5.0" text-anchor="start" fill="#222" style="color:#222">3-5 vs 0-2 (ref)</text>
<text x="430.80" y="336.30" font-size="5.0" text-anchor="middle" fill="#222" style="color:#222">2.58 (0.89, 7.51)</text>
<text x="462.00" y="336.30" font-size="5.0" text-anchor="middle" fill="#222" style="color:#222">.083</text>
<text x="482.00" y="336.30" font-size="5.0" text-anchor="middle" fill="#222" style="color:#222">140.4</text>
<text x="503.00" y="336.30" font-size="5.0" text-anchor="middle" fill="#222" style="color:#222">0.635</text>
<text x="272.00" y="345.60" font-size="5.0" text-anchor="start" fill="#222" style="color:#222">*ECOG</text>
<text x="324.50" y="345.60" font-size="5.0" text-anchor="start" fill="#222" style="color:#222">2-3 vs 0-1 (ref)</text>
<text x="430.80" y="345.80" font-size="5.0" text-anchor="middle" fill="#222" style="color:#222">3.45 (1.26, 9.42)</text>
<text x="462.00" y="345.80" font-size="5.0" text-anchor="middle" fill="#222" style="color:#222" font-weight="bold" stroke="#222" stroke-width="0.22">.016</text>
<text x="482.00" y="345.80" font-size="5.0" text-anchor="middle" fill="#222" style="color:#222">137.5</text>
<text x="503.00" y="345.80" font-size="5.0" text-anchor="middle" fill="#222" style="color:#222">0.611</text>
<text x="272.00" y="355.60" font-size="5.0" text-anchor="start" fill="#222" style="color:#222">**Frontline therapy</text>
<text x="324.50" y="355.60" font-size="5.0" text-anchor="start" fill="#222" style="color:#222">Anti-CD20+Benda vs Anti-CD20 (ref)</text>
<text x="430.80" y="355.80" font-size="5.0" text-anchor="middle" fill="#222" style="color:#222">0.61 (0.17, 2.18)</text>
<text x="462.00" y="355.80" font-size="5.0" text-anchor="middle" fill="#222" style="color:#222">.461</text>
<text x="482.00" y="355.80" font-size="5.0" text-anchor="middle" fill="#222" style="color:#222">141.3</text>
<text x="503.00" y="355.80" font-size="5.0" text-anchor="middle" fill="#222" style="color:#222">0.706</text>
<text x="324.50" y="361.50" font-size="5.0" text-anchor="start" fill="#222" style="color:#222">Anti-CD20+CHOP vs Anti-CD20 (ref)</text>
<text x="430.80" y="361.70" font-size="5.0" text-anchor="middle" fill="#222" style="color:#222">1.71 (0.49, 6.02)</text>
<text x="462.00" y="361.70" font-size="5.0" text-anchor="middle" fill="#222" style="color:#222">.402</text>
<text x="324.50" y="367.70" font-size="5.0" text-anchor="start" fill="#222" style="color:#222">Anti-CD20+CHOP</text>
<text x="430.80" y="372.80" font-size="5.0" text-anchor="middle" fill="#222" style="color:#222">2.79 (1.00, 7.77)</text>
<text x="462.00" y="372.80" font-size="5.0" text-anchor="middle" fill="#222" style="color:#222">.050</text>
<text x="324.50" y="373.90" font-size="5.0" text-anchor="start" fill="#222" style="color:#222">vs Anti-CD20+Benda (ref)</text>
<text x="268.70" y="384.40" font-size="5.0" text-anchor="start" fill="#222" style="color:#222" font-weight="bold" stroke="#222" stroke-width="0.22">Multivariable model 2:</text>
<text x="482.00" y="384.60" font-size="5.0" text-anchor="middle" fill="#222" style="color:#222">132.9</text>
<text x="503.00" y="384.60" font-size="5.0" text-anchor="middle" fill="#222" style="color:#222">0.750</text>
<text x="272.00" y="394.20" font-size="5.0" text-anchor="start" fill="#222" style="color:#222">Age (years)</text>
<text x="324.50" y="394.20" font-size="5.0" text-anchor="start" fill="#222" style="color:#222">≥60 vs &lt;60 (ref)</text>
<text x="430.80" y="394.40" font-size="5.0" text-anchor="middle" fill="#222" style="color:#222">3.74 (1.33, 10.52)</text>
<text x="462.00" y="394.40" font-size="5.0" text-anchor="middle" fill="#222" style="color:#222" font-weight="bold" stroke="#222" stroke-width="0.22">.013</text>
<text x="272.00" y="403.70" font-size="5.0" text-anchor="start" fill="#222" style="color:#222">Sex</text>
<text x="324.50" y="403.70" font-size="5.0" text-anchor="start" fill="#222" style="color:#222">Male vs Female (ref)</text>
<text x="430.80" y="403.90" font-size="5.0" text-anchor="middle" fill="#222" style="color:#222">1.27 (0.49, 3.26)</text>
<text x="462.00" y="403.90" font-size="5.0" text-anchor="middle" fill="#222" style="color:#222">.624</text>
<text x="272.00" y="413.20" font-size="5.0" text-anchor="start" fill="#222" style="color:#222">*ECOG</text>
<text x="324.50" y="413.20" font-size="5.0" text-anchor="start" fill="#222" style="color:#222">2-3 vs 0-1 (ref)</text>
<text x="430.80" y="413.40" font-size="5.0" text-anchor="middle" fill="#222" style="color:#222">3.92 (1.34, 11.48)</text>
<text x="462.00" y="413.40" font-size="5.0" text-anchor="middle" fill="#222" style="color:#222" font-weight="bold" stroke="#222" stroke-width="0.22">.013</text>
<text x="272.00" y="423.10" font-size="5.0" text-anchor="start" fill="#222" style="color:#222">Circulating lymphoma</text>
<text x="324.50" y="426.40" font-size="5.0" text-anchor="start" fill="#222" style="color:#222">1-unit increase</text>
<text x="430.80" y="426.60" font-size="5.0" text-anchor="middle" fill="#222" style="color:#222">1.03 (1.01, 1.05)</text>
<text x="462.00" y="426.60" font-size="5.0" text-anchor="middle" fill="#222" style="color:#222" font-weight="bold" stroke="#222" stroke-width="0.22">.004</text>
<text x="272.00" y="429.40" font-size="5.0" text-anchor="start" fill="#222" style="color:#222">cells</text>
<text x="269.90" y="439.78" font-size="4.95" text-anchor="start" fill="#222" style="color:#222">HR: Hazard ratio assessing the risk of death. P: P-value testing HR = 1 from Wald test.</text>
<text x="269.90" y="445.84" font-size="4.95" text-anchor="start" fill="#222" style="color:#222">AIC: Akaike information criterion (smaller is better model fit). IAUC: Integrated area under the ROC curve,</text>
<text x="269.90" y="451.90" font-size="4.95" text-anchor="start" fill="#222" style="color:#222">computed as a weighted average of the AUC values at all the event times up to 72 months (higher is better</text>
<text x="269.90" y="457.96" font-size="4.95" text-anchor="start" fill="#222" style="color:#222">model prediction).</text>
<text x="269.90" y="464.02" font-size="4.95" text-anchor="start" fill="#222" style="color:#222"># cut-off point by GELF criteria</text>
<text x="269.90" y="470.08" font-size="4.95" text-anchor="start" fill="#222" style="color:#222">## cut-off point by the Contal and O’Quigley method</text>
<text x="269.90" y="476.14" font-size="4.95" text-anchor="start" fill="#222" style="color:#222">* Missing for FLIPI (n = 1) and ECOG (n = 3) were grouped with reference category.</text>
<text x="269.90" y="482.20" font-size="4.95" text-anchor="start" fill="#222" style="color:#222">** The effect of other therapies was not estimable.</text>
<line x1="0" y1="0.5" x2="520" y2="0.5" stroke="#6a6a6a" stroke-width="1"/>
<line x1="0.5" y1="0" x2="0.5" y2="509" stroke="#6a6a6a" stroke-width="1"/>
<line x1="519.5" y1="0" x2="519.5" y2="509" stroke="#444" stroke-width="1"/>
<line x1="0" y1="508.0" x2="520" y2="508.0" stroke="#444" stroke-width="1.6"/>
</svg>
</div>
</body></html>
